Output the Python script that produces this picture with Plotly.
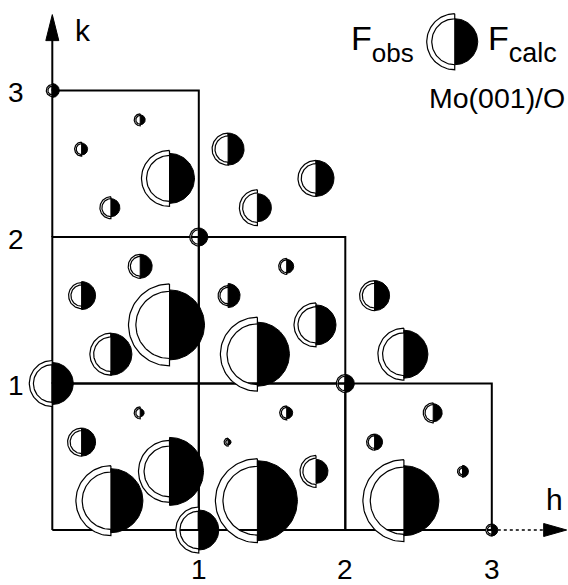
import numpy as np
import plotly.graph_objects as go

# ---------------- data ----------------
# reflection positions (h, k) and structure factor amplitudes (arb. units)
h_vals = [0.0, 0.6, 0.2, 0.4, 0.8, 1.2, 1.4, 1.8, 1.0,
          0.6, 0.2, 0.8, 0.4, 0.0, 1.6, 1.2, 1.4, 1.8, 2.0, 2.2, 2.4,
          0.6, 0.2, 0.4, 0.8, 1.0, 1.6, 1.2, 1.4, 1.8, 2.6, 2.2, 2.4, 2.8, 3.0]
k_vals = [3.0, 2.8, 2.6, 2.2, 2.4, 2.6, 2.2, 2.4, 2.0,
          1.8, 1.6, 1.4, 1.2, 1.0, 1.8, 1.6, 1.2, 1.4, 1.0, 1.6, 1.2,
          0.8, 0.6, 0.2, 0.4, 0.0, 0.8, 0.6, 0.2, 0.4, 0.8, 0.6, 0.2, 0.4, 0.0]
F_obs = [6, 6, 7, 11, 28, 16, 18, 18, 9,
         12, 13, 41, 21, 23, 8, 10, 37, 22, 9, 15, 26,
         6, 14, 35, 31, 23, 7, 4, 42, 16, 10, 8, 41, 5, 6]
F_calc = [7, 5, 6, 9, 25, 16, 14, 18, 9,
          12, 14, 35, 21, 21, 7, 12, 32, 20, 9, 15, 24,
          4, 14, 32, 34, 20, 6, 3, 40, 12, 9, 8, 35, 6, 6]

# unit cells drawn as boxes (lower-left corners)
cell_h = [0, 0, 0, 1, 1, 2]
cell_k = [0, 1, 2, 0, 1, 0]

# tick labels
h_ticks = [1, 2, 3]
h_tick_text = ["1", "2", "3"]
k_ticks = [1, 2, 3]
k_tick_text = ["1", "2", "3"]

# legend symbol amplitudes
legend_F_obs = 28
legend_F_calc = 23

# ---------------- geometry helpers ----------------
PX_PER_UNIT = 146.5
S = 1.0 / PX_PER_UNIT          # amplitude -> reciprocal-lattice units
X_RANGE = [-52.3 / PX_PER_UNIT, (568 - 52.3) / PX_PER_UNIT]
Y_RANGE = [-(585 - 530) / PX_PER_UNIT, 530 / PX_PER_UNIT]


def obs_shape(hc, kc, F):
    ro = F * S
    ri = ro - max(1.6, 0.18 * F) * S
    t1 = np.linspace(np.pi / 2, 3 * np.pi / 2, 60)
    t2 = t1[::-1]
    xs = list(hc + ro * np.cos(t1)) + list(hc + ri * np.cos(t2))
    ys = list(kc + ro * np.sin(t1)) + list(kc + ri * np.sin(t2))
    xs.append(xs[0]); ys.append(ys[0])
    return xs, ys


def calc_shape(hc, kc, F):
    rc = F * S
    t = np.linspace(-np.pi / 2, np.pi / 2, 60)
    xs = list(hc + rc * np.cos(t))
    ys = list(kc + rc * np.sin(t))
    xs.append(xs[0]); ys.append(ys[0])
    return xs, ys


fig = go.Figure()

# grid boxes
gx, gy = [], []
for ch, ck in zip(cell_h, cell_k):
    gx += [ch, ch + 1, ch + 1, ch, ch, None]
    gy += [ck, ck, ck + 1, ck + 1, ck, None]
fig.add_trace(go.Scatter(x=gx, y=gy, mode="lines",
                         line=dict(color="black", width=2),
                         hoverinfo="skip", showlegend=False))

# axes with arrows
H_TIP = 3.511
K_TIP = 3.518
fig.add_trace(go.Scatter(x=[0, 0], y=[3, K_TIP - 0.15], mode="lines",
                         line=dict(color="black", width=2),
                         hoverinfo="skip", showlegend=False))
fig.add_trace(go.Scatter(x=[3, H_TIP - 0.14], y=[0, 0], mode="lines",
                         line=dict(color="black", width=1.3, dash="dot"),
                         hoverinfo="skip", showlegend=False))
aL, aW = 26 * S, 6.5 * S
fig.add_trace(go.Scatter(x=[0, -aW, aW, 0], y=[K_TIP, K_TIP - aL, K_TIP - aL, K_TIP],
                         mode="lines", fill="toself", fillcolor="black",
                         line=dict(color="black", width=1),
                         hoverinfo="skip", showlegend=False))
aL2 = 23 * S
fig.add_trace(go.Scatter(x=[H_TIP, H_TIP - aL2, H_TIP - aL2, H_TIP], y=[0, aW, -aW, 0],
                         mode="lines", fill="toself", fillcolor="black",
                         line=dict(color="black", width=1),
                         hoverinfo="skip", showlegend=False))

# reflections (plus legend symbol)
LEG_H, LEG_K = 2.747, 3.333
all_h = h_vals + [LEG_H]
all_k = k_vals + [LEG_K]
all_obs = F_obs + [legend_F_obs]
all_calc = F_calc + [legend_F_calc]

ox, oy, cx, cy = [], [], [], []
for hc, kc, fo, fc in zip(all_h, all_k, all_obs, all_calc):
    xs, ys = obs_shape(hc, kc, fo)
    ox += xs + [None]; oy += ys + [None]
    xs, ys = calc_shape(hc, kc, fc)
    cx += xs + [None]; cy += ys + [None]

fig.add_trace(go.Scatter(x=ox, y=oy, mode="lines", fill="toself",
                         fillcolor="white", line=dict(color="black", width=1.2),
                         hoverinfo="skip", showlegend=False))
fig.add_trace(go.Scatter(x=cx, y=cy, mode="lines", fill="toself",
                         fillcolor="black", line=dict(color="black", width=1),
                         hoverinfo="skip", showlegend=False))

FONT = "Liberation Sans"


def txt(x, y, t, size, xanchor="center"):
    return dict(x=x, y=y, xref="x", yref="y", text=t, showarrow=False,
                font=dict(family=FONT, size=size, color="black"),
                xanchor=xanchor, yanchor="middle")


def fsub(sub, size):
    return ("F<sub><sub><span style='font-size:%dpx'>%s</span></sub></sub>"
            % (size, sub))


ann = []
for v, t in zip(h_ticks, h_tick_text):
    ann.append(txt(v, -0.273, t, 28))
for v, t in zip(k_ticks, k_tick_text):
    ann.append(txt(-0.245, v - 0.015, t, 28))
ann.append(txt(0.21, 3.41, "k", 30))
ann.append(txt(3.43, 0.205, "h", 30))
ann.append(txt(3.515, 2.949, "Mo(001)/O", 28.5, "right"))
# legend texts: F with subscripts
ann.append(txt(2.483, 3.32, fsub("obs", 26), 34, "right"))
ann.append(txt(2.960, 3.32, fsub("calc", 27), 34, "left"))

fig.update_layout(
    width=568, height=585,
    margin=dict(l=0, r=0, t=0, b=0),
    paper_bgcolor="white", plot_bgcolor="white",
    xaxis=dict(range=X_RANGE, visible=False, fixedrange=True),
    yaxis=dict(range=Y_RANGE, visible=False, fixedrange=True),
    annotations=ann,
    showlegend=False,
)

fig.write_html("out.html", config={"displayModeBar": False},
               post_script="document.body.style.margin='0';document.body.style.overflow='hidden';")
